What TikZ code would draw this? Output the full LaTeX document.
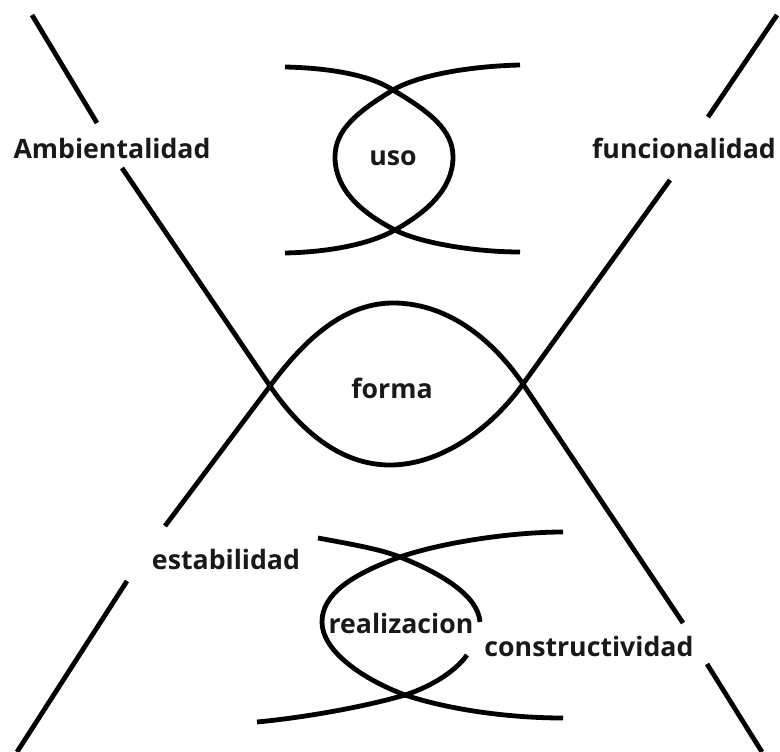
\documentclass[tikz,border=0pt]{standalone}
\usepackage{fontspec}
\setmainfont{Open Sans}
\begin{document}
\begin{tikzpicture}[x=1pt,y=-1pt,
  stroke/.style={line width=4.8pt, black, line join=round},
  lbl/.style={font=\fontsize{26.7}{30}\selectfont\bfseries, text=black!90, inner sep=0pt, anchor=center}]
\useasboundingbox[fill=white] (0,0) rectangle (780,752);
% labels
\node[lbl] (amb) at (112,148) {Ambientalidad};
\node[lbl] (fun) at (684,148) {funcionalidad};
\node[lbl] (uso) at (393,158) {uso};
\node[lbl] (forma) at (392,388) {forma};
\node[lbl] (est) at (226,559) {estabilidad};
\node[lbl] (rea) at (401,623) {realizacion};
\node[lbl] (con) at (589,646) {constructividad};
% big curve A: V with rounded bottom
\draw[stroke] (32,15) -- (97,123);
\draw[stroke] (122,168) -- (270,386)
  .. controls (300,430) and (340,465) .. (390,465)
  .. controls (440,465) and (490,430) .. (523,384) -- (670,180);
\draw[stroke] (708,117) -- (777,15);
% big curve B: inverted V with rounded top
\draw[stroke] (17,752) -- (127,581);
\draw[stroke] (165,526) -- (270,386)
  .. controls (300,346) and (340,303) .. (393,303)
  .. controls (445,303) and (490,336) .. (523,384) -- (683,623);
\draw[stroke] (707,664) -- (762,752);
% uso lens
\draw[stroke] (285,67) .. controls (330,68) and (370,75) .. (393,90)
  .. controls (430,112) and (453,130) .. (453,157)
  .. controls (453,190) and (425,213) .. (395,230)
  .. controls (370,244) and (330,252) .. (285,253);
\draw[stroke] (520,65) .. controls (475,66) and (420,74) .. (393,90)
  .. controls (357,112) and (335,130) .. (335,157)
  .. controls (335,190) and (362,213) .. (395,230)
  .. controls (420,243) and (475,252) .. (520,252);
% realizacion lens
\draw[stroke] (318,538) .. controls (350,544) and (380,549) .. (400,557)
  .. controls (440,573) and (478,595) .. (480,622);
\draw[stroke] (467,655) .. controls (455,672) and (430,687) .. (405,695)
  .. controls (360,708) and (300,718) .. (257,722);
\draw[stroke] (563,532) .. controls (510,532) and (440,543) .. (400,557)
  .. controls (350,575) and (322,595) .. (322,622)
  .. controls (322,650) and (360,678) .. (405,695)
  .. controls (450,710) and (510,718) .. (563,718);
\end{tikzpicture}
\end{document}
